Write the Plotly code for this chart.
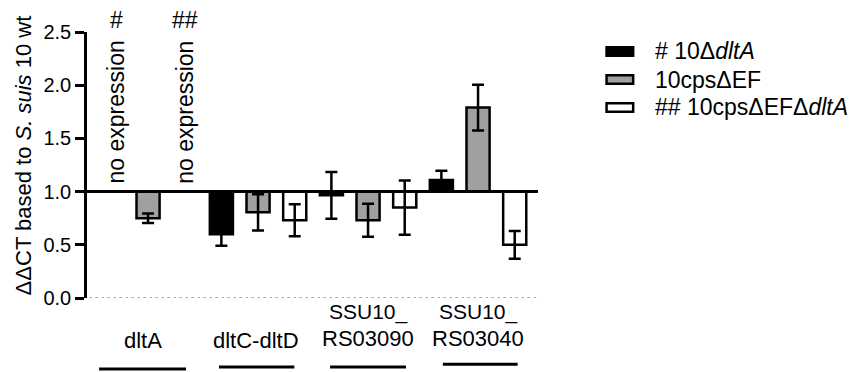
import plotly.graph_objects as go

# ---- data ----
groups = ["dltA", "dltC-dltD", "SSU10_<br>RS03090", "SSU10_<br>RS03040"]
series_names = ["# 10Δ<i>dltA</i>", "10cpsΔEF", "## 10cpsΔEFΔ<i>dltA</i>"]
dltA_mut = [None, 0.60, 0.965, 1.11]
dltA_mut_err = [None, 0.11, 0.22, 0.085]
cps = [0.75, 0.805, 0.73, 1.79]
cps_err = [0.045, 0.17, 0.155, 0.215]
cps_dltA = [None, 0.73, 0.85, 0.50]
cps_dltA_err = [None, 0.15, 0.255, 0.13]
fills = ["#000000", "#a0a0a0", "#ffffff"]
y_ticks = [0.0, 0.5, 1.0, 1.5, 2.0, 2.5]
baseline = 1.0

FONT = "Liberation Sans, Arial, Helvetica, sans-serif"
LBL = 22

fig = go.Figure()
for name, vals, errs, col in zip(series_names,
                                 [dltA_mut, cps, cps_dltA],
                                 [dltA_mut_err, cps_err, cps_dltA_err],
                                 fills):
    fig.add_trace(go.Bar(
        x=groups,
        y=[None if v is None else v - baseline for v in vals],
        base=baseline,
        name=name,
        marker=dict(color=col, line=dict(color="black", width=2.5)),
        error_y=dict(type="data", array=errs, visible=True,
                     color="black", thickness=2.5, width=6),
        showlegend=False,
    ))

# baseline at 1.0 and dotted line at 0
fig.add_shape(type="line", xref="paper", yref="y", x0=0, x1=1,
              y0=baseline, y1=baseline, line=dict(color="black", width=3),
              layer="above")
fig.add_shape(type="line", xref="paper", yref="y", x0=0.005, x1=1,
              y0=0, y1=0, line=dict(color="#666666", width=1, dash="dot"),
              layer="above")

# group labels and underlines
underline_half = [(0.445, 0.345), (0.355, 0.33), (0.345, 0.345), (0.32, 0.36)]
underline_y = [-0.267, -0.259, -0.259, -0.249]
for i, g in enumerate(groups):
    if "<br>" in g:
        l1, l2 = g.split("<br>")
        fig.add_annotation(x=i, y=-0.052, xref="x", yref="paper", text=l1,
                           showarrow=False, xanchor="center", yanchor="middle",
                           font=dict(size=21, family=FONT, color="black"))
        fig.add_annotation(x=i, y=-0.152, xref="x", yref="paper", text=l2,
                           showarrow=False, xanchor="center", yanchor="middle",
                           font=dict(size=LBL, family=FONT, color="black"))
    else:
        fig.add_annotation(x=i - 0.05 if i == 0 else i - 0.02, y=-0.16,
                           xref="x", yref="paper", text=g,
                           showarrow=False, xanchor="center", yanchor="middle",
                           font=dict(size=LBL, family=FONT, color="black"))
    a, b = underline_half[i]
    fig.add_shape(type="line", xref="x", yref="paper", x0=i - a, x1=i + b,
                  y0=underline_y[i], y1=underline_y[i],
                  line=dict(color="black", width=3))

# "no expression" notes
for xpos, mark, xs in [(-1/3, "#", 5), (1/3, "##", 0)]:
    fig.add_annotation(x=xpos, y=0.699, xref="x", yref="paper", text="no expression",
                       textangle=-90, showarrow=False, xshift=xs,
                       xanchor="center", yanchor="middle",
                       font=dict(size=23, family=FONT, color="black"))
    fig.add_annotation(x=xpos, y=1.045, xref="x", yref="paper", text=mark,
                       showarrow=False, xshift=xs,
                       xanchor="center", yanchor="middle",
                       font=dict(size=23, family=FONT, color="black"))

# y-axis title
fig.add_annotation(x=-0.142, y=0.536, xref="paper", yref="paper",
                   text="ΔΔCT based to <i>S. suis</i> 10 wt", textangle=-90,
                   showarrow=False, xanchor="center", yanchor="middle",
                   font=dict(size=22, family=FONT, color="black"))

# manual legend
leg_y = [0.9267, 0.8214, 0.7162]
for name, col, yy in zip(series_names, fills, leg_y):
    fig.add_shape(type="rect", xref="paper", yref="paper",
                  x0=1.152, x1=1.211, y0=yy - 0.016, y1=yy + 0.016,
                  fillcolor=col, line=dict(color="black", width=2.5))
    fig.add_annotation(x=1.255, y=yy, xref="paper", yref="paper", text=name,
                       showarrow=False, xanchor="left", yanchor="middle",
                       font=dict(size=23, family=FONT, color="black"))

fig.update_layout(
    width=853, height=364,
    margin=dict(l=79, r=323, t=24, b=74),
    barmode="group", bargap=0, bargroupgap=0.37,
    plot_bgcolor="white", paper_bgcolor="white",
    font=dict(family=FONT, color="black"),
    xaxis=dict(type="category", range=[-0.555, 3.545], showticklabels=False,
               showline=False, ticks="", showgrid=False, zeroline=False),
    yaxis=dict(range=[0, 2.5], tickvals=y_ticks, tickformat=".1f",
               showline=True, linewidth=2.5, linecolor="black",
               ticks="outside", ticklen=9, tickwidth=2.5, tickcolor="black",
               tickfont=dict(size=20, family=FONT, color="black"),
               showgrid=False, zeroline=False),
)

fig.write_html("out.html")
